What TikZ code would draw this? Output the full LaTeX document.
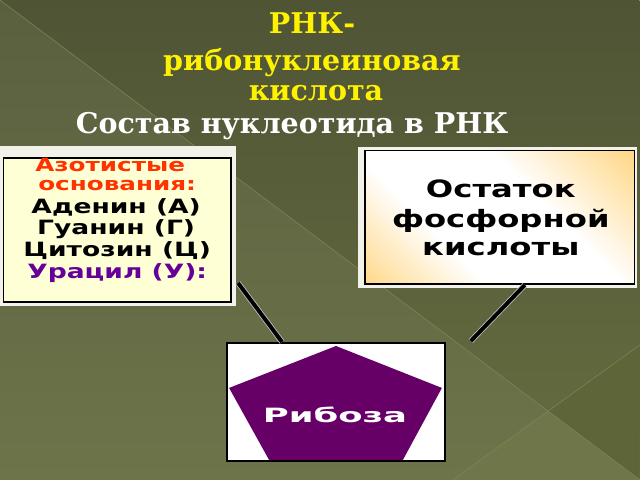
\documentclass[tikz,border=0pt]{standalone}
\usepackage{fontspec}
\setmainfont{DejaVu Serif}
\newfontfamily\widesans[FakeStretch=1.35]{DejaVu Sans}
\newfontfamily\widersans[FakeStretch=1.8]{DejaVu Sans}
\usetikzlibrary{positioning}
\definecolor{bgtop}{HTML}{4F5435}
\definecolor{bgbottom}{HTML}{666D40}
\definecolor{bglighttop}{HTML}{5A603F}
\definecolor{bglightbottom}{HTML}{6D744A}
\definecolor{bgright}{HTML}{5E6538}
\definecolor{bgcorner}{HTML}{6F764A}
\definecolor{seam}{HTML}{7E855A}
\definecolor{basefill}{HTML}{FFFFD6}
\definecolor{framewhite}{HTML}{F2F2EA}
\definecolor{acidorange}{HTML}{FFBF3C}
\definecolor{redtext}{HTML}{FF3300}
\definecolor{uracil}{HTML}{660099}
\definecolor{ribose}{HTML}{660066}
\pgfdeclarehorizontalshading{acidglow}{100bp}{color(0bp)=(acidorange); color(36bp)=(white); color(60bp)=(white); color(100bp)=(acidorange)}
\tikzset{box/.style={draw=black, line width=.9pt, inner sep=0pt},
         word/.style={anchor=base, inner sep=0pt},
         link/.style={black, line width=2.8pt, preaction={draw=lightgray, line width=4pt}}}

\begin{document}
\begin{tikzpicture}[x=0.025cm, y=-0.025cm]

        % background
        \shade[top color=bgtop, bottom color=bgbottom] (0,0) rectangle (640,480);
        \shade[top color=bglighttop, bottom color=bglightbottom] (0,0) -- (640,480) -- (0,480) -- cycle;
        \fill[bgright] (640,345) -- (548,411) -- (640,480) -- cycle;
        \fill[bgcorner] (453,480) -- (548,411) -- (640,480) -- cycle;
        \draw[seam, line width=.4pt] (0,0) -- (640,480);
        \draw[seam, line width=.4pt] (640,345) -- (453,480);
        \useasboundingbox (0,0) rectangle (640,480);

        % title
        \node[word, yellow, font=\bfseries\fontsize{20.3}{24}\selectfont] (t1) at (312,33) {РНК-};
        \node[word, yellow, font=\bfseries\fontsize{20.3}{24}\selectfont] (t2) at (312,70) {рибонуклеиновая};
        \node[word, yellow, font=\bfseries\fontsize{20.3}{24}\selectfont] (t3) at (316,100) {кислота};
        \node[word, white, font=\bfseries\fontsize{20.3}{24}\selectfont] (t4) at (292,133) {Состав нуклеотида в РНК};

        % nitrogen bases
        \fill[framewhite] (0,146) rectangle (236,306);
        \node[box, fill=basefill, minimum width=5.7cm, minimum height=3.6cm] (bases) at (117,230) {};
        \node[word, redtext, font=\widesans\bfseries\fontsize{13}{15}\selectfont] (b1) at (110,171) {Азотистые};
        \node[word, redtext, font=\widesans\bfseries\fontsize{13}{15}\selectfont] (b2) at (117,190) {основания:};
        \node[word, font=\widesans\bfseries\fontsize{14}{16}\selectfont] (b3) at (116,213) {Аденин (А)};
        \node[word, font=\widesans\bfseries\fontsize{14}{16}\selectfont] (b4) at (116,234) {Гуанин (Г)};
        \node[word, font=\widesans\bfseries\fontsize{14}{16}\selectfont] (b5) at (117,256) {Цитозин (Ц)};
        \node[word, uracil, font=\widesans\bfseries\fontsize{14}{16}\selectfont] (b6) at (117,278) {Урацил (У):};

        % phosphoric acid
        \fill[framewhite] (358,147) rectangle (637,288);
        \node[box, shading=acidglow, shading angle=45, minimum width=6.75cm, minimum height=3.35cm] (acid) at (500,217) {};
        \node[word, font=\widesans\bfseries\fontsize{17}{19}\selectfont] (a1) at (501,197) {Остаток};
        \node[word, font=\widesans\bfseries\fontsize{17}{19}\selectfont] (a2) at (501,227) {фосфорной};
        \node[word, font=\widesans\bfseries\fontsize{17}{19}\selectfont] (a3) at (501,255) {кислоты};

        % ribose
        \node[box, fill=white, minimum width=5.45cm, minimum height=2.95cm] (sugar) at (336,402) {};
        \fill[ribose] (336,346) -- (442,388) -- (403,460) -- (269,460) -- (229,388) -- cycle;
        \node[word, white, font=\widersans\bfseries\fontsize{14}{16}\selectfont] (r1) at (335,423) {Рибоза};

        % links
        \coordinate (lA) at (238,283);
        \coordinate (lB) at (282,342);
        \coordinate (rA) at (525,285);
        \coordinate (rB) at (471,341);
        \draw[link] (lA) -- (lB);
        \draw[link] (rA) -- (rB);
\end{tikzpicture}
\end{document}
